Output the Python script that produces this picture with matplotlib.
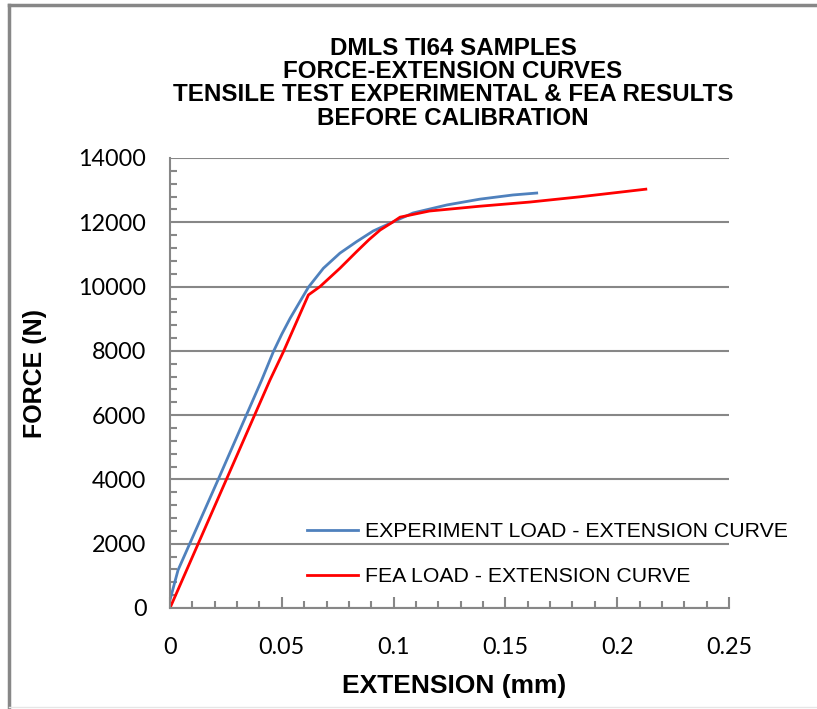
"""Force-extension curves, DMLS Ti64 tensile test vs FEA"""

import matplotlib
matplotlib.use("Agg")
import matplotlib.pyplot as plt
from matplotlib.ticker import MultipleLocator
from matplotlib.lines import Line2D

plt.rcParams['font.family'] = ['Liberation Sans', 'DejaVu Sans']

# experiment curve (mm, N)
exp_ext = [0.0, 0.0036, 0.0215, 0.0410, 0.0462, 0.0500, 0.0537, 0.0580, 0.0619,
           0.0686, 0.0760, 0.0835, 0.0909, 0.0997, 0.1087, 0.1239, 0.1386,
           0.1534, 0.1640]
exp_force = [250, 1180, 3990, 7090, 7970, 8520, 9010, 9520, 9980,
             10570, 11040, 11400, 11730, 12010, 12290, 12540, 12720,
             12850, 12910]

# FEA curve (mm, N)
fea_ext = [0.0, 0.0447, 0.0507, 0.0619, 0.0671, 0.0760, 0.0835, 0.0890, 0.0940,
           0.0997, 0.1029, 0.1160, 0.1386, 0.1610, 0.1830, 0.2128]
fea_force = [0, 7090, 7970, 9740, 10000, 10570, 11090, 11460, 11760,
             12010, 12160, 12350, 12500, 12630, 12790, 13030]

GRID = '#878787'
W, H = 817, 709

fig = plt.figure(figsize=(W / 100, H / 100), dpi=100)
ax = fig.add_axes([170 / W, 1 - 608 / H, 559 / W, 450 / H])

ax.plot(exp_ext, exp_force, color='#4f81bd', lw=2.0,
        label='EXPERIMENT LOAD - EXTENSION CURVE')
ax.plot(fea_ext, fea_force, color='#ff0000', lw=2.0,
        label='FEA LOAD - EXTENSION CURVE')

ax.set_xlim(0, 0.25)
ax.set_ylim(0, 14000)
ax.xaxis.set_minor_locator(MultipleLocator(0.01))
ax.yaxis.set_major_locator(MultipleLocator(2000))
ax.yaxis.set_minor_locator(MultipleLocator(400))
ax.set_xticks([0, 0.05, 0.1, 0.15, 0.2, 0.25])
ax.set_xticklabels(['0', '0.05', '0.1', '0.15', '0.2', '0.25'])

ax.grid(axis='y', which='major', color=GRID, lw=1.5)
ax.set_axisbelow(True)
for side in ['top', 'right']:
    ax.spines[side].set_visible(False)
for side in ['left', 'bottom']:
    ax.spines[side].set_color(GRID)
    ax.spines[side].set_linewidth(1.5)

ax.tick_params(which='both', direction='in', color=GRID, width=1.5)
ax.tick_params(which='major', length=8)
ax.tick_params(which='minor', length=5)
ax.tick_params(axis='x', which='major', pad=21)
ax.tick_params(axis='y', which='major', length=0, pad=17)
for lbl in ax.get_xticklabels() + ax.get_yticklabels():
    lbl.set_family(['Lato', 'DejaVu Sans'])
    lbl.set_fontsize(16.8)

ax.set_xlabel('EXTENSION (mm)', fontsize=19, fontweight='bold')
ax.set_ylabel('FORCE (N)', fontsize=18, fontweight='bold')
ax.xaxis.set_label_coords(454 / W, 1 - 686 / H, transform=fig.transFigure)
ax.yaxis.set_label_coords(35 / W, 1 - 374 / H, transform=fig.transFigure)
ax.xaxis.label.set_va('center')
ax.yaxis.label.set_va('center')

fig.text(453 / W, 1 - 37 / H,
         'DMLS TI64 SAMPLES\nFORCE-EXTENSION CURVES\n'
         'TENSILE TEST EXPERIMENTAL & FEA RESULTS\nBEFORE CALIBRATION',
         ha='center', va='top', fontsize=17.4, fontweight='bold',
         linespacing=1.01)

ax.legend(loc='upper left', bbox_to_anchor=(307 / W, 1 - 522 / H),
          bbox_transform=fig.transFigure, frameon=False,
          fontsize=15.3, handlelength=2.4, handletextpad=0.35,
          labelspacing=1.24, borderpad=0, borderaxespad=0)

# outer chart border
fig.add_artist(Line2D([9 / W, 9 / W], [2 / H, 1 - 5 / H], color=GRID, lw=2.5))
fig.add_artist(Line2D([9 / W, 1.0], [1 - 5 / H, 1 - 5 / H], color=GRID, lw=2.5))
fig.add_artist(Line2D([9 / W, 1.0], [2 / H, 2 / H], color='#e6e6e6', lw=1))

fig.savefig('out.png', dpi=100)
